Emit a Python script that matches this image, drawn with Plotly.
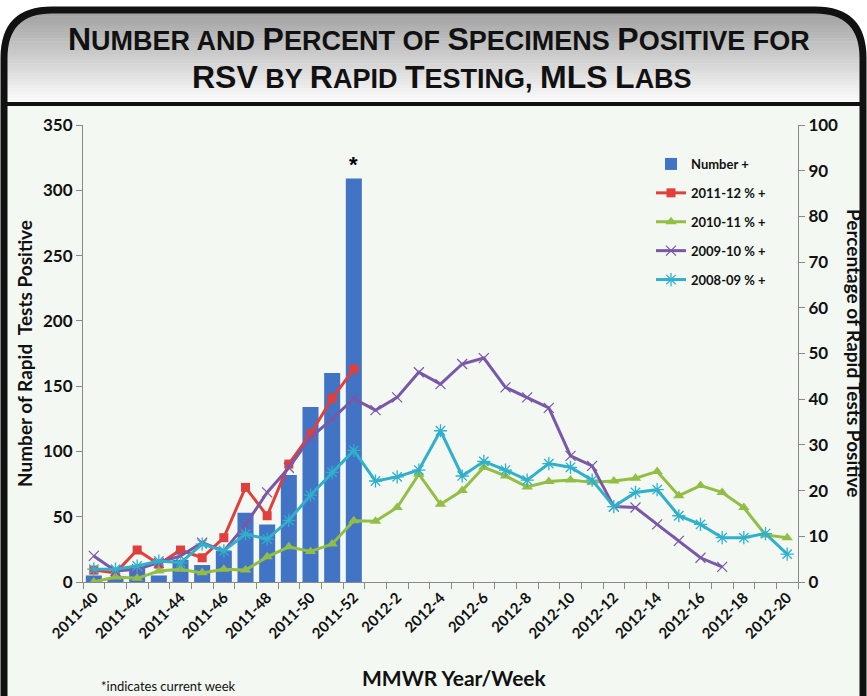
import plotly.graph_objects as go

# ---------------- data ----------------
weeks = ["2011-40", "2011-41", "2011-42", "2011-43", "2011-44", "2011-45", "2011-46",
         "2011-47", "2011-48", "2011-49", "2011-50", "2011-51", "2011-52",
         "2012-1", "2012-2", "2012-3", "2012-4", "2012-5", "2012-6", "2012-7",
         "2012-8", "2012-9", "2012-10", "2012-11", "2012-12", "2012-13", "2012-14",
         "2012-15", "2012-16", "2012-17", "2012-18", "2012-19", "2012-20"]

number_pos = [5, 3, 11, 5, 17, 13, 24, 53, 44, 82, 134, 160, 309]

pct_2011_12 = [2.6, 2.0, 7.0, 3.9, 7.0, 5.3, 9.7, 20.7, 14.5, 25.8, 32.4, 40.2, 46.6]

pct_2010_11 = [0.0, 1.1, 0.8, 2.4, 2.8, 2.0, 2.8, 2.6, 5.5, 7.7, 6.7, 8.3, 13.4,
               13.3, 16.3, 23.6, 17.0, 20.0, 25.1, 23.2, 20.8, 22.0, 22.3, 21.8,
               22.1, 22.7, 24.2, 18.9, 21.1, 19.6, 16.3, 10.3, 9.7]

pct_2009_10 = [5.7, 2.4, 2.8, 4.2, 5.7, 8.6, 6.8, 12.5, 19.6, 25.0, 31.6, 35.7, 40.1,
               37.6, 40.4, 45.9, 43.3, 47.7, 49.0, 42.6, 40.4, 38.1, 27.6, 25.4,
               16.5, 16.3, 12.6, 9.0, 5.3, 3.3]

pct_2008_09 = [2.8, 2.8, 3.5, 4.6, 4.2, 8.3, 6.8, 10.5, 9.4, 13.5, 19.0, 24.0, 28.8,
               22.1, 23.0, 24.5, 33.1, 23.2, 26.4, 24.5, 22.3, 25.9, 25.1, 22.3,
               16.5, 19.6, 20.2, 14.5, 12.6, 9.7, 9.7, 10.6, 6.1]

tick_text = [w if i % 2 == 0 else "" for i, w in enumerate(weeks)]

# ---------------- geometry ----------------
W, H = 867, 696
L, R, T, B = 83, 798, 125, 582


def px(xp):
    return (xp - L) / (R - L)


def py(yp):
    return (B - yp) / (B - T)


BLUE = "#4174C4"
RED = "#E0403C"
GREEN = "#93BE45"
PURPLE = "#7A58A8"
CYAN = "#2FB0CB"
FONT = "Lato"
INK = "#111111"

fig = go.Figure()

fig.add_trace(go.Bar(x=weeks[:len(number_pos)], y=number_pos, name="Number +",
                     marker=dict(color=BLUE, line=dict(width=0)), yaxis="y"))

fig.add_trace(go.Scatter(x=weeks[:len(pct_2011_12)], y=pct_2011_12, name="2011-12 % +",
                         yaxis="y2", mode="lines+markers",
                         line=dict(color=RED, width=3),
                         marker=dict(symbol="square", size=9, color=RED)))
fig.add_trace(go.Scatter(x=weeks[:len(pct_2010_11)], y=pct_2010_11, name="2010-11 % +",
                         yaxis="y2", mode="lines+markers",
                         line=dict(color=GREEN, width=3),
                         marker=dict(symbol="triangle-up", size=10, color=GREEN)))
fig.add_trace(go.Scatter(x=weeks[:len(pct_2009_10)], y=pct_2009_10, name="2009-10 % +",
                         yaxis="y2", mode="lines+markers",
                         line=dict(color=PURPLE, width=3),
                         marker=dict(symbol="x-thin-open", size=10, color=PURPLE,
                                     line=dict(color=PURPLE, width=1.2))))
fig.add_trace(go.Scatter(x=weeks[:len(pct_2008_09)], y=pct_2008_09, name="2008-09 % +",
                         yaxis="y2", mode="lines+markers",
                         line=dict(color=CYAN, width=3),
                         marker=dict(symbol="asterisk-open", size=11, color=CYAN,
                                     line=dict(color=CYAN, width=1.3))))

# ---------------- decorations ----------------
shapes = []
shapes.append(dict(type="rect", xref="paper", yref="paper", x0=px(0), x1=px(W),
                   y0=py(106), y1=py(H + 5), fillcolor="#F4F8F2", line=dict(width=0),
                   layer="below"))
nb = 30
top, bot = 10, 104
for k in range(nb):
    y0 = top + (bot - top) * k / nb
    y1 = top + (bot - top) * (k + 1) / nb
    t = k / (nb - 1)
    g = int(160 + (253 - 160) * t)
    shapes.append(dict(type="rect", xref="paper", yref="paper", x0=px(5), x1=px(862),
                       y0=py(y1 + 0.5), y1=py(y0), fillcolor=f"rgb({g},{g},{g})",
                       line=dict(width=0), layer="below"))

tl = (f"M {px(0)},{py(0)} L {px(52)},{py(0)} L {px(52)},{py(10)} "
      f"Q {px(4)},{py(10)} {px(4)},{py(58)} L {px(0)},{py(58)} Z")
tr = (f"M {px(W)},{py(0)} L {px(815)},{py(0)} L {px(815)},{py(10)} "
      f"Q {px(863)},{py(10)} {px(863)},{py(58)} L {px(W)},{py(58)} Z")
for p in (tl, tr):
    shapes.append(dict(type="path", xref="paper", yref="paper", path=p,
                       fillcolor="white", line=dict(width=0), layer="below"))
frame = (f"M {px(4)},{py(H + 10)} L {px(4)},{py(58)} Q {px(4)},{py(10)} {px(52)},{py(10)} "
         f"L {px(815)},{py(10)} Q {px(863)},{py(10)} {px(863)},{py(58)} L {px(863)},{py(H + 10)}")
shapes.append(dict(type="path", xref="paper", yref="paper", path=frame,
                   line=dict(color=INK, width=7), layer="above"))
shapes.append(dict(type="line", xref="paper", yref="paper", x0=px(4), x1=px(863),
                   y0=py(104), y1=py(104), line=dict(color=INK, width=4)))


def smallcaps(words, big):
    out = []
    for w, mode in words:
        if mode == "big":
            out.append(f'<span style="font-size:{big}px">{w}</span>')
        elif mode == "first":
            out.append(f'<span style="font-size:{big}px">{w[0]}</span>{w[1:]}')
        else:
            out.append(w)
    return " ".join(out)


line1 = smallcaps([("NUMBER", "first"), ("AND", "s"), ("PERCENT", "first"), ("OF", "s"),
                   ("SPECIMENS", "first"), ("POSITIVE", "first"), ("FOR", "s")], 32)
line2 = smallcaps([("RSV", "big"), ("BY", "s"), ("RAPID", "first"), ("TESTING,", "first"),
                   ("MLS", "big"), ("LABS", "first")], 32)

TFONT = "Liberation Sans Narrow, Arial Narrow, Liberation Sans, Arial"
annotations = [
    dict(text=line1, xref="paper", yref="paper", x=px(439), y=py(39), xanchor="center",
         yanchor="middle", showarrow=False,
         font=dict(family=TFONT, size=27, color=INK, weight="bold")),
    dict(text=line2, xref="paper", yref="paper", x=px(442), y=py(77), xanchor="center",
         yanchor="middle", showarrow=False,
         font=dict(family=TFONT, size=27, color=INK, weight="bold")),
    dict(text="*", x=weeks[len(number_pos) - 1], y=number_pos[-1], xref="x", yref="y",
         yanchor="bottom", yshift=0, showarrow=False,
         font=dict(family="Liberation Sans", size=22, color="black", weight="bold")),
    dict(text="MMWR Year/Week", xref="paper", yref="paper", x=px(454), y=py(677),
         xanchor="center", yanchor="middle", showarrow=False,
         font=dict(family=FONT, size=21, color=INK, weight="bold")),
    dict(text="*indicates current week", xref="paper", yref="paper", x=px(99), y=py(686),
         xanchor="left", yanchor="middle", showarrow=False,
         font=dict(family=FONT, size=13, color=INK)),
    dict(text="Percentage of Rapid Tests Positive", xref="paper", yref="paper",
         x=px(855), y=py(353), xanchor="center", yanchor="middle", textangle=90,
         showarrow=False, font=dict(family=FONT, size=19, color=INK, weight="bold")),
]

axis_common = dict(showline=True, linecolor="#8a8a8a", linewidth=1, ticks="outside",
                   ticklen=6, tickcolor="#8a8a8a", showgrid=False, zeroline=False)

fig.update_layout(
    width=W, height=H,
    margin=dict(l=L, r=W - R, t=T, b=H - B),
    paper_bgcolor="white",
    plot_bgcolor="rgba(0,0,0,0)",
    bargap=0.26,
    showlegend=True,
    legend=dict(x=px(651), y=py(149), xanchor="left", yanchor="top",
                bgcolor="rgba(0,0,0,0)", font=dict(family=FONT, size=13, color=INK,
                                                    weight="bold"),
                itemwidth=30, tracegroupgap=9, traceorder="grouped"),
    xaxis=dict(type="category", categoryorder="array", categoryarray=weeks,
               range=[-0.5, len(weeks) - 0.5], tickmode="array", tickvals=weeks,
               ticktext=tick_text, tickangle=-45, tickson="boundaries",
               tickfont=dict(family=FONT, size=15, color=INK, weight="bold"),
               **axis_common),
    yaxis=dict(range=[0, 350], dtick=50,
               tickfont=dict(family=FONT, size=17, color=INK, weight="bold"),
               title=dict(text="Number of Rapid\u00a0 Tests Positive", standoff=5,
                          font=dict(family=FONT, size=19, color=INK, weight="bold")),
               **axis_common),
    yaxis2=dict(range=[0, 100], dtick=10, overlaying="y", side="right",
                tickfont=dict(family=FONT, size=17, color=INK, weight="bold"),
                **axis_common),
    shapes=shapes,
    annotations=annotations,
)

for i, tr_ in enumerate(fig.data):
    tr_.legendgroup = f"g{i}"

fig.write_html("out.html")
